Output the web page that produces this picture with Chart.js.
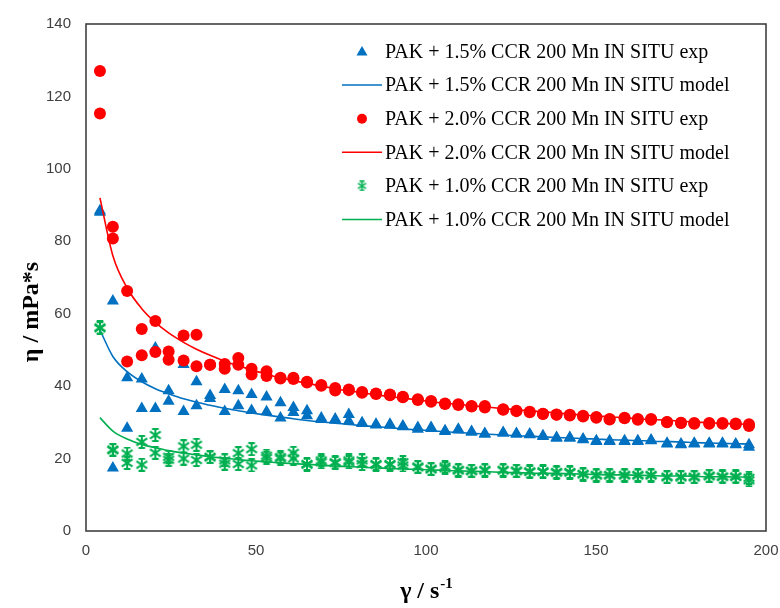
<!DOCTYPE html>
<html>
<head>
<meta charset="utf-8">
<script src="https://cdn.jsdelivr.net/npm/chart.js@4.4.1/dist/chart.umd.min.js"></script>
<style>
  html, body { margin: 0; padding: 0; background: #fff; }
  #wrap { width: 780px; height: 608px; }
</style>
</head>
<body>
<div id="wrap"><canvas id="chartViscosity" width="780" height="608"></canvas></div>
<script>
// shear rate (1/s), same for every measurement series
const shearRate = [4.1, 7.9, 12.1, 16.4, 20.4, 24.3, 28.7, 32.5, 36.5, 40.8, 44.8, 48.7,
  53.1, 57.2, 61.0, 65.0, 69.2, 73.3, 77.3, 81.2, 85.3, 89.4, 93.2, 97.6,
  101.5, 105.6, 109.5, 113.4, 117.3, 122.7, 126.6, 130.5, 134.4, 138.4, 142.3, 146.2,
  150.1, 154.0, 158.4, 162.3, 166.2, 170.9, 175.0, 178.9, 183.3, 187.2, 191.1, 195.0];

// PAK + 1.5% CCR (blue), two sweeps + model
const blueExpUp = [88.4, 63.5, 42.3, 42.0, 50.5, 38.7, 46.0, 41.2, 37.4, 39.1, 38.7, 37.7,
  37.0, 35.4, 34.1, 33.2, 31.2, 30.9, 32.2, 29.9, 29.5, 29.5, 29.0, 28.6,
  28.6, 27.7, 28.1, 27.5, 26.9, 27.2, 26.9, 26.8, 26.3, 25.8, 25.8, 25.4,
  24.9, 24.9, 24.9, 24.9, 25.1, 24.2, 24.0, 24.2, 24.2, 24.2, 24.0, 23.8];
const blueExpDown = [88.0, 17.4, 28.4, 33.8, 33.8, 35.8, 33.0, 34.6, 36.6, 33.0, 34.6, 33.3,
  32.9, 31.2, 32.7, 31.8, 30.8, 30.6, 30.4, 29.7, 29.3, 29.2, 28.8, 28.1,
  28.3, 27.5, 27.9, 27.3, 26.7, 27.0, 26.7, 26.6, 26.1, 25.6, 25.6, 25.2,
  24.7, 24.7, 24.7, 24.7, 24.9, 24.0, 23.8, 24.0, 24.0, 24.0, 23.8, 23.1];
const blueModel = [55.5, 48.2, 44.0, 41.2, 39.3, 37.9, 36.5, 35.6, 34.7, 33.9, 33.2, 32.6,
  32.0, 31.5, 31.0, 30.5, 30.1, 29.8, 29.4, 29.1, 28.8, 28.5, 28.2, 27.9,
  27.7, 27.4, 27.2, 27.0, 26.8, 26.5, 26.3, 26.2, 26.0, 25.8, 25.7, 25.5,
  25.4, 25.2, 25.1, 25.0, 24.8, 24.7, 24.6, 24.4, 24.3, 24.2, 24.1, 24.0];

// PAK + 2.0% CCR (red)
const redExpUp = [127.0, 84.0, 66.3, 55.8, 58.0, 49.6, 54.0, 54.2, 45.9, 46.1, 47.8, 44.8,
  44.1, 42.3, 42.3, 41.2, 40.3, 39.5, 39.1, 38.4, 38.0, 37.7, 37.1, 36.4,
  35.9, 35.2, 35.0, 34.5, 34.5, 33.6, 33.2, 32.9, 32.4, 32.2, 32.1, 31.8,
  31.5, 30.9, 31.3, 30.9, 30.9, 30.1, 29.9, 29.8, 29.8, 29.8, 29.7, 29.5];
const redExpDown = [115.3, 80.8, 46.8, 48.5, 49.4, 47.3, 47.1, 45.5, 45.9, 44.8, 45.9, 43.2,
  42.8, 42.1, 42.0, 41.0, 40.1, 38.8, 38.9, 38.2, 37.8, 37.5, 36.9, 36.2,
  35.7, 35.1, 34.8, 34.4, 34.1, 33.5, 33.1, 32.8, 32.3, 32.1, 31.9, 31.6,
  31.3, 30.8, 31.1, 30.7, 30.7, 30.0, 29.8, 29.6, 29.6, 29.6, 29.5, 29.0];
const redModel = [92.0, 76.0, 67.1, 61.4, 57.6, 54.7, 52.1, 50.2, 48.5, 46.9, 45.6, 44.5,
  43.3, 42.3, 41.5, 40.8, 40.0, 39.3, 38.7, 38.2, 37.6, 37.1, 36.7, 36.2,
  35.7, 35.3, 35.0, 34.6, 34.3, 33.8, 33.5, 33.2, 32.9, 32.6, 32.3, 32.0,
  31.8, 31.5, 31.3, 31.0, 30.8, 30.6, 30.3, 30.1, 29.9, 29.7, 29.6, 29.4];

// PAK + 1.0% CCR (green)
const greenExpUp = [56.2, 22.5, 21.4, 24.6, 26.5, 20.5, 23.4, 23.8, 20.5, 19.5, 21.5, 22.6,
  20.8, 20.4, 21.6, 18.5, 19.5, 19.0, 19.5, 19.5, 18.5, 18.5, 19.0, 17.8,
  17.2, 17.8, 16.9, 16.7, 16.9, 16.9, 16.7, 16.5, 16.5, 16.3, 16.3, 15.8,
  15.5, 15.5, 15.5, 15.5, 15.5, 15.0, 15.0, 15.0, 15.3, 15.1, 15.1, 14.7];
const greenExpDown = [56.0, 22.3, 18.8, 18.3, 21.6, 19.7, 20.0, 19.6, 20.3, 18.6, 18.5, 18.1,
  20.2, 20.0, 20.0, 18.3, 19.0, 18.8, 19.0, 18.5, 18.3, 18.3, 18.1, 17.6,
  17.0, 17.3, 16.7, 16.5, 16.7, 16.7, 16.5, 16.3, 16.3, 16.1, 16.1, 15.6,
  15.3, 15.3, 15.3, 15.3, 15.3, 14.8, 14.8, 14.8, 15.1, 14.9, 14.9, 14.0];
const greenModel = [31.3, 27.6, 25.4, 23.9, 23.0, 22.2, 21.5, 21.0, 20.5, 20.1, 19.7, 19.4,
  19.1, 18.8, 18.6, 18.4, 18.2, 17.9, 17.8, 17.6, 17.4, 17.3, 17.1, 17.0,
  16.9, 16.7, 16.6, 16.5, 16.4, 16.2, 16.1, 16.0, 15.9, 15.9, 15.8, 15.7,
  15.6, 15.5, 15.5, 15.4, 15.3, 15.2, 15.2, 15.1, 15.0, 15.0, 14.9, 14.9];

const seriesLabels = [
  'PAK + 1.5% CCR 200 Mn IN SITU exp',
  'PAK + 1.5% CCR 200 Mn IN SITU model',
  'PAK + 2.0% CCR 200 Mn IN SITU exp',
  'PAK + 2.0% CCR 200 Mn IN SITU model',
  'PAK + 1.0% CCR 200 Mn IN SITU exp',
  'PAK + 1.0% CCR 200 Mn IN SITU model'
];

const BLUE = '#0070C0', RED = '#FF0000', GREEN = '#00B050';

// pares {x,y} a partir de las listas
function toPoints(xs, ...ys) {
  const pts = [];
  ys.forEach(arr => arr.forEach((v, i) => pts.push({ x: xs[i], y: v })));
  return pts;
}

// marcador tipo asterisco de Excel
function makeStar(size, color, lw) {
  const c = document.createElement('canvas');
  c.width = size; c.height = size;
  const g = c.getContext('2d');
  const m = size / 2, r = size / 2 - 1;
  g.strokeStyle = color;
  g.lineWidth = lw;
  g.beginPath();
  g.moveTo(m, m - r); g.lineTo(m, m + r);
  g.moveTo(m - r * 0.9, m - r * 0.6); g.lineTo(m + r * 0.9, m + r * 0.6);
  g.moveTo(m + r * 0.9, m - r * 0.6); g.lineTo(m - r * 0.9, m + r * 0.6);
  g.moveTo(m - r * 0.55, m - r); g.lineTo(m + r * 0.55, m - r);
  g.moveTo(m - r * 0.55, m + r); g.lineTo(m + r * 0.55, m + r);
  g.stroke();
  return c;
}
const starMarker = makeStar(14, GREEN, 2);
const starLegend = makeStar(11, GREEN, 1.6);

// caja del área de trazado, leyenda y títulos de ejes
const decorations = {
  id: 'decorations',
  afterDraw(chart) {
    const { ctx, chartArea: a } = chart;
    ctx.save();
    ctx.strokeStyle = '#404040';
    ctx.lineWidth = 1.6;
    ctx.strokeRect(a.left, a.top, a.right - a.left, a.bottom - a.top);

    // leyenda
    ctx.font = '20px "Liberation Serif", "Times New Roman", serif';
    ctx.textBaseline = 'middle';
    const styles = [
      { kind: 'tri', color: BLUE }, { kind: 'line', color: BLUE },
      { kind: 'dot', color: RED }, { kind: 'line', color: RED },
      { kind: 'star', color: GREEN }, { kind: 'line', color: GREEN }
    ];
    seriesLabels.forEach((txt, k) => {
      const y = 51.5 + k * 33.6;
      const s = styles[k];
      ctx.fillStyle = s.color;
      ctx.strokeStyle = s.color;
      if (s.kind === 'line') {
        ctx.lineWidth = 1.5;
        ctx.beginPath(); ctx.moveTo(342, y); ctx.lineTo(382, y); ctx.stroke();
      } else if (s.kind === 'tri') {
        ctx.beginPath(); ctx.moveTo(362, y - 5.5); ctx.lineTo(367.5, y + 4); ctx.lineTo(356.5, y + 4); ctx.closePath(); ctx.fill();
      } else if (s.kind === 'dot') {
        ctx.beginPath(); ctx.arc(362, y, 5, 0, Math.PI * 2); ctx.fill();
      } else {
        ctx.drawImage(starLegend, 362 - 5.5, y - 5.5);
      }
      ctx.fillStyle = '#000';
      ctx.textAlign = 'left';
      ctx.fillText(txt, 385, y + 1);
    });

    // título eje x con superíndice
    ctx.fillStyle = '#000';
    const main = 'γ / s';
    ctx.font = 'bold 15px "Liberation Serif", serif';
    const supW = ctx.measureText('-1').width;
    ctx.font = 'bold 24px "Liberation Serif", "Times New Roman", serif';
    const mainW = ctx.measureText(main).width;
    const cx = (a.left + a.right) / 2;
    const x0 = cx - (mainW + supW) / 2;
    ctx.textAlign = 'left';
    ctx.textBaseline = 'alphabetic';
    ctx.fillText(main, x0, 598);
    ctx.font = 'bold 15px "Liberation Serif", serif';
    ctx.fillText('-1', x0 + mainW + 1, 588);

    // título eje y
    ctx.translate(38, 312);
    ctx.rotate(-Math.PI / 2);
    ctx.font = 'bold 24px "Liberation Serif", "Times New Roman", serif';
    ctx.textAlign = 'center';
    ctx.fillText('η / mPa*s', 0, 0);
    ctx.restore();
  }
};

const tickFont = { family: '"Liberation Sans", Arial, sans-serif', size: 15 };

new Chart(document.getElementById('chartViscosity'), {
  type: 'scatter',
  data: {
    datasets: [
      {
        label: seriesLabels[0], data: toPoints(shearRate, blueExpUp, blueExpDown),
        pointStyle: 'triangle', pointRadius: 7, backgroundColor: BLUE, borderColor: BLUE,
        borderWidth: 0, order: 6
      },
      {
        label: seriesLabels[1], data: toPoints(shearRate, blueModel), showLine: true,
        borderColor: BLUE, borderWidth: 1.6, pointRadius: 0, cubicInterpolationMode: 'monotone', order: 5
      },
      {
        label: seriesLabels[2], data: toPoints(shearRate, redExpUp, redExpDown),
        pointStyle: 'circle', pointRadius: 6, backgroundColor: RED, borderColor: RED,
        borderWidth: 0, order: 4
      },
      {
        label: seriesLabels[3], data: toPoints(shearRate, redModel), showLine: true,
        borderColor: RED, borderWidth: 1.6, pointRadius: 0, cubicInterpolationMode: 'monotone', order: 3
      },
      {
        label: seriesLabels[4], data: toPoints(shearRate, greenExpUp, greenExpDown),
        pointStyle: starMarker, pointRadius: 7, order: 2
      },
      {
        label: seriesLabels[5], data: toPoints(shearRate, greenModel), showLine: true,
        borderColor: GREEN, borderWidth: 1.6, pointRadius: 0, cubicInterpolationMode: 'monotone', order: 1
      }
    ]
  },
  options: {
    responsive: false,
    animation: false,
    layout: { padding: { top: 24, right: 14, left: 0, bottom: 0 } },
    plugins: { legend: { display: false }, tooltip: { enabled: false } },
    scales: {
      x: {
        type: 'linear', min: 0, max: 200,
        grid: { display: false, drawTicks: false },
        border: { display: false },
        ticks: { stepSize: 50, font: tickFont, color: '#404040', padding: 11, maxRotation: 0 },
        afterFit: (scale) => { scale.height = 77; scale.paddingLeft = 0; scale.paddingRight = 0; }
      },
      y: {
        min: 0, max: 140,
        grid: { display: false, drawTicks: false },
        border: { display: false },
        ticks: { stepSize: 20, font: tickFont, color: '#404040', padding: 15 },
        afterFit: (scale) => { scale.width = 86; scale.paddingTop = 0; scale.paddingBottom = 0; }
      }
    }
  },
  plugins: [decorations]
});
</script>
</body>
</html>
